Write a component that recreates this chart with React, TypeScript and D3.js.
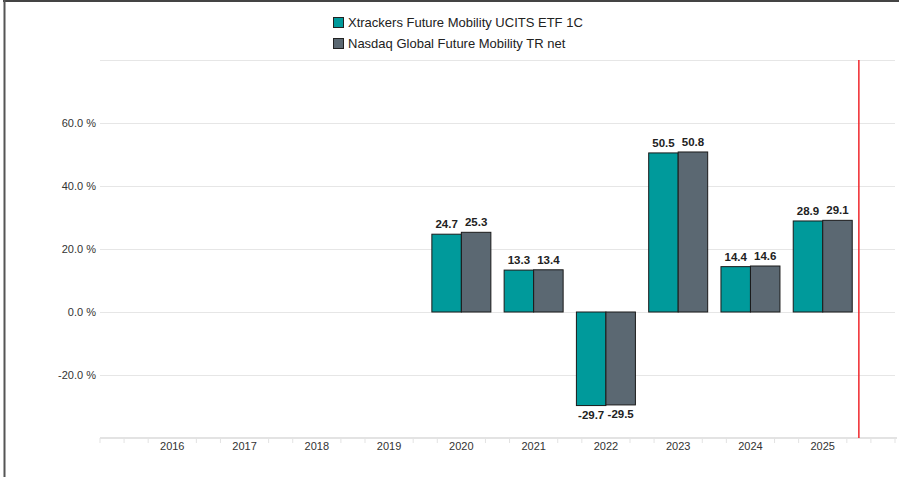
import { useRef, useEffect } from "react";
import * as d3 from "d3";

const years = ["2016", "2017", "2018", "2019", "2020", "2021", "2022", "2023", "2024", "2025"];
const seriesNames = ["Xtrackers Future Mobility UCITS ETF 1C", "Nasdaq Global Future Mobility TR net"];
const etfValues = [null, null, null, null, 24.7, 13.3, -29.7, 50.5, 14.4, 28.9];
const indexValues = [null, null, null, null, 25.3, 13.4, -29.5, 50.8, 14.6, 29.1];
const yTicks = [-20, 0, 20, 40, 60];
const gridValues = [-20, 0, 20, 40, 60, 80];
const colors = ["#009a9b", "#5b6872"];

const width = 899;
const height = 477;

export default function App() {
  const ref = useRef<SVGSVGElement>(null);

  useEffect(() => {
    if (!ref.current) return;
    const svg = d3.select(ref.current);
    svg.selectAll("*").remove();

    const left = 100;
    const right = 895;
    const top = 60;
    const bottom = 438;
    const font = "'Liberation Sans', Arial, sans-serif";

    // Scales
    const x = d3.scaleBand<string>().domain(years).range([left, right]).paddingOuter(0.5).paddingInner(0);
    const y = d3.scaleLinear().domain([-40, 80]).range([bottom, top]);
    const groupWidth = 59;
    const inner = d3.scaleBand<number>().domain([0, 1]).range([0, groupWidth]);

    // Frame
    svg.append("line").attr("x1", 3).attr("x2", width).attr("y1", 1).attr("y2", 1)
      .attr("stroke", "#444").attr("stroke-width", 2);
    svg.append("line").attr("x1", 4.5).attr("x2", 4.5).attr("y1", 0).attr("y2", height)
      .attr("stroke", "#555").attr("stroke-width", 2);

    // Grid
    svg.append("g").selectAll("line").data(gridValues).join("line")
      .attr("x1", left).attr("x2", right)
      .attr("y1", (d) => Math.round(y(d)) + 0.5).attr("y2", (d) => Math.round(y(d)) + 0.5)
      .attr("stroke", "#e6e6e6").attr("stroke-width", 1);

    // Y labels
    svg.append("g").selectAll("text").data(yTicks).join("text")
      .attr("x", 96).attr("y", (d) => y(d) + 4)
      .attr("text-anchor", "end")
      .attr("font-family", font).attr("font-size", 11).attr("fill", "#333")
      .text((d) => `${d.toFixed(1)} %`);

    // X axis line + minor ticks
    svg.append("line").attr("x1", left).attr("x2", right + 2).attr("y1", bottom).attr("y2", bottom)
      .attr("stroke", "#e3e3e3").attr("stroke-width", 2);
    const third = x.step() / 3;
    const tickIdx = d3.range(0, 34).filter((k) => !(k % 3 === 0 && k >= 3 && k <= 30));
    svg.append("g").selectAll("line").data(tickIdx).join("line")
      .attr("x1", (k) => left + k * third).attr("x2", (k) => left + k * third)
      .attr("y1", bottom).attr("y2", bottom + 5)
      .attr("stroke", "#e3e3e3").attr("stroke-width", 1);

    svg.append("g").selectAll("text").data(years).join("text")
      .attr("x", (d) => (x(d) as number) + x.bandwidth() / 2)
      .attr("y", bottom + 12)
      .attr("text-anchor", "middle")
      .attr("font-family", font).attr("font-size", 11).attr("fill", "#333")
      .text((d) => d);

    // Bars
    const series = [etfValues, indexValues];
    const offset = (x.bandwidth() - groupWidth) / 2;
    series.forEach((vals, si) => {
      const pts = years.map((yr, i) => ({ yr, v: vals[i] })).filter((p) => p.v !== null) as { yr: string; v: number }[];
      const g = svg.append("g");
      g.selectAll("rect").data(pts).join("rect")
        .attr("x", (d) => (x(d.yr) as number) + offset + (inner(si) as number))
        .attr("y", (d) => y(Math.max(0, d.v)))
        .attr("width", inner.bandwidth())
        .attr("height", (d) => Math.abs(y(d.v) - y(0)))
        .attr("fill", colors[si])
        .attr("stroke", "#1a1a1a").attr("stroke-width", 1);
      g.selectAll("text").data(pts).join("text")
        .attr("x", (d) => (x(d.yr) as number) + offset + (inner(si) as number) + inner.bandwidth() / 2)
        .attr("y", (d) => (d.v >= 0 ? y(d.v) - 6 : y(d.v) + 13))
        .attr("text-anchor", "middle")
        .attr("font-family", font).attr("font-size", 11.5).attr("font-weight", "bold").attr("fill", "#222")
        .text((d) => d.v.toFixed(1));
    });

    // Red marker line after last category
    const lastEnd = (x(years[years.length - 1]) as number) + x.bandwidth();
    svg.append("line").attr("x1", lastEnd).attr("x2", lastEnd).attr("y1", top).attr("y2", bottom)
      .attr("stroke", "#f0262b").attr("stroke-width", 1.5);

    // Legend
    const legend = svg.append("g").attr("transform", "translate(333, 17)");
    seriesNames.forEach((name, i) => {
      legend.append("rect").attr("x", 0.5).attr("y", i * 21 + 0.5).attr("width", 10).attr("height", 10)
        .attr("fill", colors[i]).attr("stroke", "#222").attr("stroke-width", 1);
      legend.append("text").attr("x", 15).attr("y", i * 21 + 10)
        .attr("font-family", font).attr("font-size", 13).attr("fill", "#222")
        .text(name);
    });
  }, []);

  return (
    <svg
      ref={ref}
      width={width}
      height={height}
      style={{ position: "absolute", left: 0, top: 0, background: "#fff" }}
    />
  );
}
